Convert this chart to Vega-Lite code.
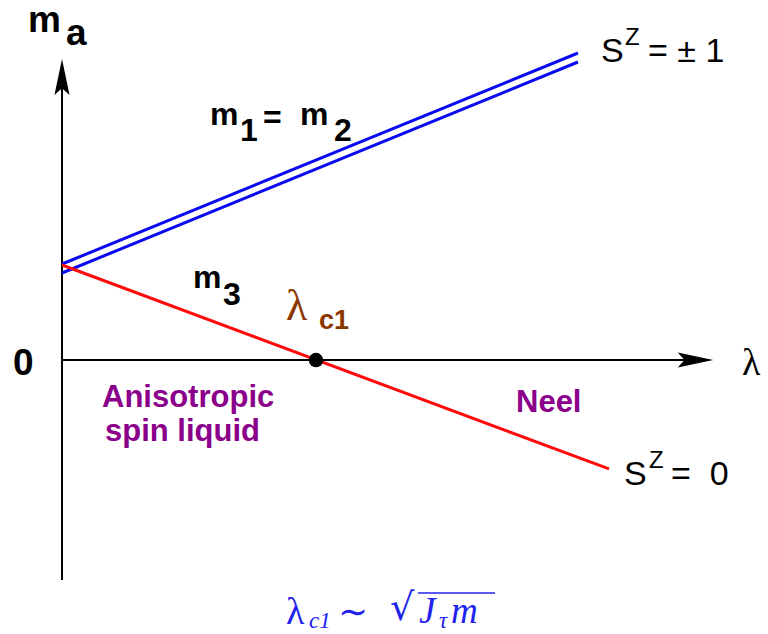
{
  "$schema": "https://vega.github.io/schema/vega-lite/v6.json",
  "width": 768,
  "height": 634,
  "autosize": {"type": "none"},
  "padding": 0,
  "background": "white",
  "config": {"view": {"stroke": null}},
  "encoding": {
    "x": {"field": "x", "type": "quantitative", "scale": {"domain": [-0.2441, 2.7795], "nice": false, "zero": false}, "axis": null},
    "y": {"field": "y", "type": "quantitative", "scale": {"domain": [-2.8842, 3.7895], "nice": false, "zero": false}, "axis": null}
  },
  "layer": [
    {
      "data": {"values": [
        {"x": 0, "y": -2.316, "x2": 0, "y2": 2.895},
        {"x": 0, "y": 0, "x2": 2.472, "y2": 0}
      ]},
      "mark": {"type": "rule", "color": "black", "strokeWidth": 2},
      "encoding": {"x2": {"field": "x2"}, "y2": {"field": "y2"}}
    },
    {
      "data": {"values": [{"x": 0, "y": 2.979}]},
      "mark": {"type": "point", "shape": "M0,-1L0.42,1L0,0.62L-0.42,1Z", "filled": true, "color": "black", "opacity": 1, "size": 1296, "strokeWidth": 0},
      "encoding": {}
    },
    {
      "data": {"values": [{"x": 2.494, "y": 0}]},
      "mark": {"type": "point", "shape": "M0,-1L0.42,1L0,0.62L-0.42,1Z", "angle": 90, "filled": true, "color": "black", "opacity": 1, "size": 1260, "strokeWidth": 0},
      "encoding": {}
    },
    {
      "data": {"values": [
        {"x": 0, "y": 1.0105, "x2": 2.0315, "y2": 3.2316},
        {"x": 0, "y": 0.9158, "x2": 2.0315, "y2": 3.1368}
      ]},
      "mark": {"type": "rule", "color": "#0a0af0", "strokeWidth": 3},
      "encoding": {"x2": {"field": "x2"}, "y2": {"field": "y2"}}
    },
    {
      "data": {"values": [
        {"x": 0, "y": 1.0, "x2": 2.1535, "y2": -1.147}
      ]},
      "mark": {"type": "rule", "color": "#ff0a0a", "strokeWidth": 3},
      "encoding": {"x2": {"field": "x2"}, "y2": {"field": "y2"}}
    },
    {
      "data": {"values": [{"x": 1.0, "y": 0}]},
      "mark": {"type": "point", "shape": "circle", "filled": true, "color": "black", "opacity": 1, "size": 210},
      "encoding": {}
    },
    {
      "data": {"values": [
        {"x": -0.1339, "y": 3.4526, "t": "m"},
        {"x": 0.0157, "y": 3.3158, "t": "a"},
        {"x": -0.1929, "y": -0.1579, "t": "0"}
      ]},
      "mark": {"type": "text", "font": "Liberation Sans", "fontWeight": "bold", "fontSize": 37, "align": "left", "baseline": "alphabetic", "color": "black"},
      "encoding": {"text": {"field": "t"}}
    },
    {
      "data": {"values": [
        {"x": 0.5827, "y": 2.4737, "t": "m"},
        {"x": 0.7008, "y": 2.3053, "t": "1"},
        {"x": 0.7913, "y": 2.4421, "t": "="},
        {"x": 0.937, "y": 2.4737, "t": "m"},
        {"x": 1.0709, "y": 2.3053, "t": "2"},
        {"x": 0.5157, "y": 0.7579, "t": "m"},
        {"x": 0.6339, "y": 0.5789, "t": "3"}
      ]},
      "mark": {"type": "text", "font": "Liberation Sans", "fontWeight": "bold", "fontSize": 32, "align": "left", "baseline": "alphabetic", "color": "black"},
      "encoding": {"text": {"field": "t"}}
    },
    {
      "data": {"values": [
        {"x": 0.1575, "y": -0.4947, "t": "Anisotropic"},
        {"x": 0.1693, "y": -0.8526, "t": "spin liquid"},
        {"x": 1.7874, "y": -0.5474, "t": "Neel"}
      ]},
      "mark": {"type": "text", "font": "Liberation Sans", "fontWeight": "bold", "fontSize": 31, "align": "left", "baseline": "alphabetic", "color": "#8b008b"},
      "encoding": {"text": {"field": "t"}}
    },
    {
      "data": {"values": [{"x": 0.8819, "y": 0.4211, "t": "λ"}]},
      "mark": {"type": "text", "font": "Liberation Serif", "fontSize": 44, "align": "left", "baseline": "alphabetic", "color": "#8a3800"},
      "encoding": {"text": {"field": "t"}}
    },
    {
      "data": {"values": [{"x": 1.0118, "y": 0.3263, "t": "c1"}]},
      "mark": {"type": "text", "font": "Liberation Sans", "fontWeight": "bold", "fontSize": 27, "align": "left", "baseline": "alphabetic", "color": "#8a3800"},
      "encoding": {"text": {"field": "t"}}
    },
    {
      "data": {"values": [
        {"x": 2.122, "y": 3.1368, "t": "S"},
        {"x": 2.3071, "y": 3.1368, "t": "= ± 1"},
        {"x": 2.2126, "y": -1.3158, "t": "S"},
        {"x": 2.3976, "y": -1.3158, "t": "=\u00a0\u00a00"}
      ]},
      "mark": {"type": "text", "font": "Liberation Sans", "fontSize": 34, "align": "left", "baseline": "alphabetic", "color": "black"},
      "encoding": {"text": {"field": "t"}}
    },
    {
      "data": {"values": [
        {"x": 2.2165, "y": 3.3158, "t": "Z"},
        {"x": 2.311, "y": -1.1368, "t": "Z"}
      ]},
      "mark": {"type": "text", "font": "Liberation Sans", "fontSize": 24, "align": "left", "baseline": "alphabetic", "color": "black"},
      "encoding": {"text": {"field": "t"}}
    },
    {
      "data": {"values": [{"x": 2.6772, "y": -0.1579, "t": "λ"}]},
      "mark": {"type": "text", "font": "Liberation Serif", "fontSize": 38, "align": "left", "baseline": "alphabetic", "color": "black"},
      "encoding": {"text": {"field": "t"}}
    },
    {
      "data": {"values": [{"x": 0.8819, "y": -2.7789, "t": "λ"}]},
      "mark": {"type": "text", "font": "Liberation Serif", "fontSize": 38, "align": "left", "baseline": "alphabetic", "color": "#2222ee"},
      "encoding": {"text": {"field": "t"}}
    },
    {
      "data": {"values": [
        {"x": 1.4055, "y": -2.7684, "t": "J"},
        {"x": 1.5315, "y": -2.7684, "t": "m"}
      ]},
      "mark": {"type": "text", "font": "Liberation Serif", "fontStyle": "italic", "fontSize": 37, "align": "left", "baseline": "alphabetic", "color": "#2222ee"},
      "encoding": {"text": {"field": "t"}}
    },
    {
      "data": {"values": [
        {"x": 0.9724, "y": -2.8211, "t": "c1"},
        {"x": 1.4843, "y": -2.8211, "t": "τ"}
      ]},
      "mark": {"type": "text", "font": "Liberation Serif", "fontStyle": "italic", "fontSize": 23, "align": "left", "baseline": "alphabetic", "color": "#2222ee"},
      "encoding": {"text": {"field": "t"}}
    },
    {
      "data": {"values": [{"x": 1.0866, "y": -2.779, "t": "∼"}]},
      "mark": {"type": "text", "font": "DejaVu Serif", "fontSize": 36, "align": "left", "baseline": "alphabetic", "color": "#2222ee"},
      "encoding": {"text": {"field": "t"}}
    },
    {
      "data": {"values": [{"x": 1.2913, "y": -2.737, "t": "√"}]},
      "mark": {"type": "text", "font": "DejaVu Serif", "fontSize": 38, "align": "left", "baseline": "alphabetic", "color": "#2222ee"},
      "encoding": {"text": {"field": "t"}}
    },
    {
      "data": {"values": [{"x": 1.4016, "y": -2.4526, "x2": 1.7047, "y2": -2.4526}]},
      "mark": {"type": "rule", "color": "#2222ee", "strokeWidth": 1.5},
      "encoding": {"x2": {"field": "x2"}, "y2": {"field": "y2"}}
    }
  ]
}
